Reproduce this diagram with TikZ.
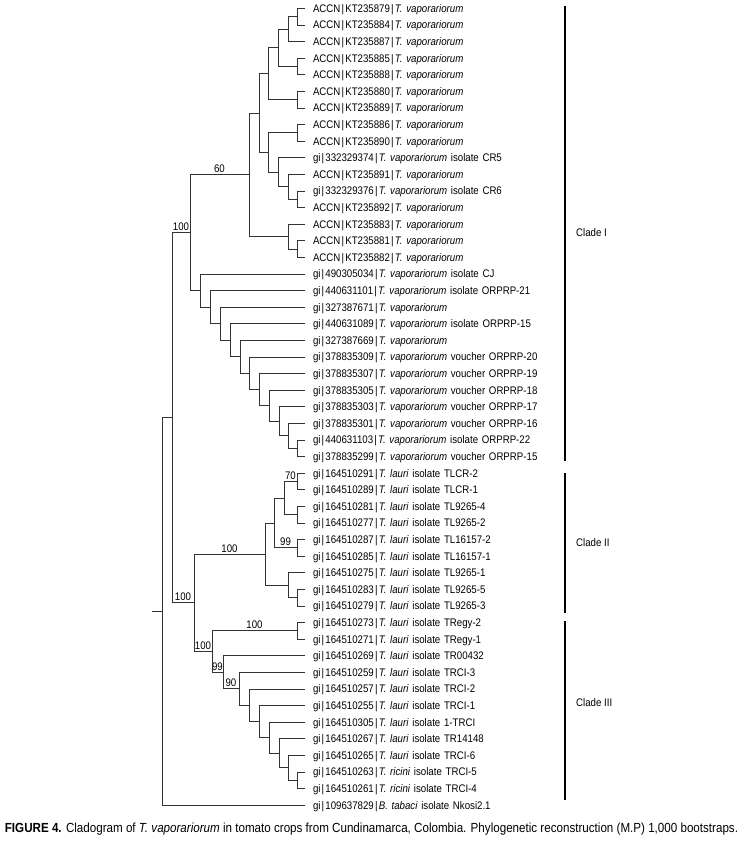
\documentclass[tikz,border=0pt]{standalone}
\usepackage{fontspec}
\setmainfont[FakeStretch=0.88]{Liberation Sans}
\usetikzlibrary{positioning}
\newcommand{\tvap}{\textit{T. vaporariorum}}
\newcommand{\tlau}{\textit{T. lauri}}
\newcommand{\tric}{\textit{T. ricini}}
\newcommand{\vsep}{\kern1.2pt|\kern1.2pt}
\tikzstyle{taxon} = [rectangle, anchor=west, text width=240pt, align=left,
    inner sep=0pt, outer xsep=8pt, outer ysep=0pt, minimum height=16.6pt,
    text height=10.4pt, text depth=2.4pt, font=\fontsize{11}{13}\selectfont]
\tikzstyle{branch} = [draw, black!80, line width=0.8pt]
\tikzstyle{support} = [above, text=black, inner sep=1.5pt, font=\fontsize{11}{13}\selectfont]
\tikzstyle{cladebar} = [draw, black, line width=1.2pt]
\tikzstyle{cladename} = [anchor=west, inner sep=0pt, font=\fontsize{11}{13}\selectfont]

\begin{document}
\begin{tikzpicture}[x=1pt, y=-16.6pt]
    \useasboundingbox (0,0.5) rectangle (741,51.404);

    \node[taxon] (kt235879) at (305,1) {ACCN\vsep KT235879\vsep\tvap};
    \node[taxon, below=0pt of kt235879] (kt235884) {ACCN\vsep KT235884\vsep\tvap};
    \node[taxon, below=0pt of kt235884] (kt235887) {ACCN\vsep KT235887\vsep\tvap};
    \node[taxon, below=0pt of kt235887] (kt235885) {ACCN\vsep KT235885\vsep\tvap};
    \node[taxon, below=0pt of kt235885] (kt235888) {ACCN\vsep KT235888\vsep\tvap};
    \node[taxon, below=0pt of kt235888] (kt235880) {ACCN\vsep KT235880\vsep\tvap};
    \node[taxon, below=0pt of kt235880] (kt235889) {ACCN\vsep KT235889\vsep\tvap};
    \node[taxon, below=0pt of kt235889] (kt235886) {ACCN\vsep KT235886\vsep\tvap};
    \node[taxon, below=0pt of kt235886] (kt235890) {ACCN\vsep KT235890\vsep\tvap};
    \node[taxon, below=0pt of kt235890] (gi332329374) {gi\vsep 332329374\vsep\tvap\ isolate CR5};
    \node[taxon, below=0pt of gi332329374] (kt235891) {ACCN\vsep KT235891\vsep\tvap};
    \node[taxon, below=0pt of kt235891] (gi332329376) {gi\vsep 332329376\vsep\tvap\ isolate CR6};
    \node[taxon, below=0pt of gi332329376] (kt235892) {ACCN\vsep KT235892\vsep\tvap};
    \node[taxon, below=0pt of kt235892] (kt235883) {ACCN\vsep KT235883\vsep\tvap};
    \node[taxon, below=0pt of kt235883] (kt235881) {ACCN\vsep KT235881\vsep\tvap};
    \node[taxon, below=0pt of kt235881] (kt235882) {ACCN\vsep KT235882\vsep\tvap};
    \node[taxon, below=0pt of kt235882] (gi490305034) {gi\vsep 490305034\vsep\tvap\ isolate CJ};
    \node[taxon, below=0pt of gi490305034] (gi440631101) {gi\vsep 440631101\vsep\tvap\ isolate ORPRP-21};
    \node[taxon, below=0pt of gi440631101] (gi327387671) {gi\vsep 327387671\vsep\tvap};
    \node[taxon, below=0pt of gi327387671] (gi440631089) {gi\vsep 440631089\vsep\tvap\ isolate ORPRP-15};
    \node[taxon, below=0pt of gi440631089] (gi327387669) {gi\vsep 327387669\vsep\tvap};
    \node[taxon, below=0pt of gi327387669] (gi378835309) {gi\vsep 378835309\vsep\tvap\ voucher ORPRP-20};
    \node[taxon, below=0pt of gi378835309] (gi378835307) {gi\vsep 378835307\vsep\tvap\ voucher ORPRP-19};
    \node[taxon, below=0pt of gi378835307] (gi378835305) {gi\vsep 378835305\vsep\tvap\ voucher ORPRP-18};
    \node[taxon, below=0pt of gi378835305] (gi378835303) {gi\vsep 378835303\vsep\tvap\ voucher ORPRP-17};
    \node[taxon, below=0pt of gi378835303] (gi378835301) {gi\vsep 378835301\vsep\tvap\ voucher ORPRP-16};
    \node[taxon, below=0pt of gi378835301] (gi440631103) {gi\vsep 440631103\vsep\tvap\ isolate ORPRP-22};
    \node[taxon, below=0pt of gi440631103] (gi378835299) {gi\vsep 378835299\vsep\tvap\ voucher ORPRP-15};
    \node[taxon, below=0pt of gi378835299] (gi164510291) {gi\vsep 164510291\vsep\tlau\ isolate TLCR-2};
    \node[taxon, below=0pt of gi164510291] (gi164510289) {gi\vsep 164510289\vsep\tlau\ isolate TLCR-1};
    \node[taxon, below=0pt of gi164510289] (gi164510281) {gi\vsep 164510281\vsep\tlau\ isolate TL9265-4};
    \node[taxon, below=0pt of gi164510281] (gi164510277) {gi\vsep 164510277\vsep\tlau\ isolate TL9265-2};
    \node[taxon, below=0pt of gi164510277] (gi164510287) {gi\vsep 164510287\vsep\tlau\ isolate TL16157-2};
    \node[taxon, below=0pt of gi164510287] (gi164510285) {gi\vsep 164510285\vsep\tlau\ isolate TL16157-1};
    \node[taxon, below=0pt of gi164510285] (gi164510275) {gi\vsep 164510275\vsep\tlau\ isolate TL9265-1};
    \node[taxon, below=0pt of gi164510275] (gi164510283) {gi\vsep 164510283\vsep\tlau\ isolate TL9265-5};
    \node[taxon, below=0pt of gi164510283] (gi164510279) {gi\vsep 164510279\vsep\tlau\ isolate TL9265-3};
    \node[taxon, below=0pt of gi164510279] (gi164510273) {gi\vsep 164510273\vsep\tlau\ isolate TRegy-2};
    \node[taxon, below=0pt of gi164510273] (gi164510271) {gi\vsep 164510271\vsep\tlau\ isolate TRegy-1};
    \node[taxon, below=0pt of gi164510271] (gi164510269) {gi\vsep 164510269\vsep\tlau\ isolate TR00432};
    \node[taxon, below=0pt of gi164510269] (gi164510259) {gi\vsep 164510259\vsep\tlau\ isolate TRCI-3};
    \node[taxon, below=0pt of gi164510259] (gi164510257) {gi\vsep 164510257\vsep\tlau\ isolate TRCI-2};
    \node[taxon, below=0pt of gi164510257] (gi164510255) {gi\vsep 164510255\vsep\tlau\ isolate TRCI-1};
    \node[taxon, below=0pt of gi164510255] (gi164510305) {gi\vsep 164510305\vsep\tlau\ isolate 1-TRCI};
    \node[taxon, below=0pt of gi164510305] (gi164510267) {gi\vsep 164510267\vsep\tlau\ isolate TR14148};
    \node[taxon, below=0pt of gi164510267] (gi164510265) {gi\vsep 164510265\vsep\tlau\ isolate TRCI-6};
    \node[taxon, below=0pt of gi164510265] (gi164510263) {gi\vsep 164510263\vsep\tric\ isolate TRCI-5};
    \node[taxon, below=0pt of gi164510263] (gi164510261) {gi\vsep 164510261\vsep\tric\ isolate TRCI-4};
    \node[taxon, below=0pt of gi164510261] (gi109637829) {gi\vsep 109637829\vsep\textit{B. tabaci} isolate Nkosi2.1};

    \coordinate (n1t2) at (297,1.5);
    \coordinate (n1t3) at (288,2.25);
    \coordinate (n4t5) at (297,4.5);
    \coordinate (n1t5) at (278,3.375);
    \coordinate (n6t7) at (297,6.5);
    \coordinate (n1t7) at (268,4.9375);
    \coordinate (n8t9) at (297,8.5);
    \coordinate (n12t13) at (297,12.5);
    \coordinate (n11t13) at (288,11.75);
    \coordinate (n10t13) at (278,10.875);
    \coordinate (n8t13) at (268,9.6875);
    \coordinate (n1t13) at (259,7.3125);
    \coordinate (n15t16) at (297,15.5);
    \coordinate (n14t16) at (288,14.75);
    \coordinate (n1t16) at (249,11.031);
    \coordinate (n27t28) at (297,27.5);
    \coordinate (n26t28) at (288,26.75);
    \coordinate (n25t28) at (279,25.875);
    \coordinate (n24t28) at (269,24.938);
    \coordinate (n23t28) at (259,23.969);
    \coordinate (n22t28) at (249,22.984);
    \coordinate (n21t28) at (240,21.992);
    \coordinate (n20t28) at (230,20.996);
    \coordinate (n19t28) at (220,19.998);
    \coordinate (n18t28) at (210,18.999);
    \coordinate (n17t28) at (200,18.0);
    \coordinate (cladeOne) at (190,14.515);
    \coordinate (n29t30) at (297,29.5);
    \coordinate (n31t32) at (297,31.5);
    \coordinate (n29t32) at (284,30.5);
    \coordinate (n33t34) at (297,33.5);
    \coordinate (n29t34) at (274,32);
    \coordinate (n36t37) at (297,36.5);
    \coordinate (n35t37) at (288,35.75);
    \coordinate (cladeTwo) at (265,33.875);
    \coordinate (n38t39) at (297,38.5);
    \coordinate (n47t48) at (297,47.5);
    \coordinate (n46t48) at (288,46.75);
    \coordinate (n45t48) at (279,45.875);
    \coordinate (n44t48) at (269,44.938);
    \coordinate (n43t48) at (259,43.969);
    \coordinate (n42t48) at (249,42.984);
    \coordinate (n41t48) at (239,41.992);
    \coordinate (n40t48) at (223,40.996);
    \coordinate (cladeThree) at (212,39.748);
    \coordinate (lauriGroup) at (194,36.811);
    \coordinate (ingroup) at (172,25.663);
    \coordinate (root) at (162,37.332);
    \coordinate (rootStub) at (152,37.332);

    \path[branch] (n1t2) |- (kt235879.west);
    \path[branch] (n1t2) |- (kt235884.west);
    \path[branch] (n1t3) |- (n1t2);
    \path[branch] (n1t3) |- (kt235887.west);
    \path[branch] (n4t5) |- (kt235885.west);
    \path[branch] (n4t5) |- (kt235888.west);
    \path[branch] (n1t5) |- (n1t3);
    \path[branch] (n1t5) |- (n4t5);
    \path[branch] (n6t7) |- (kt235880.west);
    \path[branch] (n6t7) |- (kt235889.west);
    \path[branch] (n1t7) |- (n1t5);
    \path[branch] (n1t7) |- (n6t7);
    \path[branch] (n8t9) |- (kt235886.west);
    \path[branch] (n8t9) |- (kt235890.west);
    \path[branch] (n12t13) |- (gi332329376.west);
    \path[branch] (n12t13) |- (kt235892.west);
    \path[branch] (n11t13) |- (kt235891.west);
    \path[branch] (n11t13) |- (n12t13);
    \path[branch] (n10t13) |- (gi332329374.west);
    \path[branch] (n10t13) |- (n11t13);
    \path[branch] (n8t13) |- (n8t9);
    \path[branch] (n8t13) |- (n10t13);
    \path[branch] (n1t13) |- (n1t7);
    \path[branch] (n1t13) |- (n8t13);
    \path[branch] (n15t16) |- (kt235881.west);
    \path[branch] (n15t16) |- (kt235882.west);
    \path[branch] (n14t16) |- (kt235883.west);
    \path[branch] (n14t16) |- (n15t16);
    \path[branch] (n1t16) |- (n1t13);
    \path[branch] (n1t16) |- (n14t16);

    \path[branch] (n27t28) |- (gi440631103.west);
    \path[branch] (n27t28) |- (gi378835299.west);
    \path[branch] (n26t28) |- (gi378835301.west);
    \path[branch] (n26t28) |- (n27t28);
    \path[branch] (n25t28) |- (gi378835303.west);
    \path[branch] (n25t28) |- (n26t28);
    \path[branch] (n24t28) |- (gi378835305.west);
    \path[branch] (n24t28) |- (n25t28);
    \path[branch] (n23t28) |- (gi378835307.west);
    \path[branch] (n23t28) |- (n24t28);
    \path[branch] (n22t28) |- (gi378835309.west);
    \path[branch] (n22t28) |- (n23t28);
    \path[branch] (n21t28) |- (gi327387669.west);
    \path[branch] (n21t28) |- (n22t28);
    \path[branch] (n20t28) |- (gi440631089.west);
    \path[branch] (n20t28) |- (n21t28);
    \path[branch] (n19t28) |- (gi327387671.west);
    \path[branch] (n19t28) |- (n20t28);
    \path[branch] (n18t28) |- (gi440631101.west);
    \path[branch] (n18t28) |- (n19t28);
    \path[branch] (n17t28) |- (gi490305034.west);
    \path[branch] (n17t28) |- (n18t28);
    \path[branch] (cladeOne) |- (n1t16) node[support, pos=.75] (bs60) {60};
    \path[branch] (cladeOne) |- (n17t28);

    \path[branch] (n29t30) |- (gi164510291.west);
    \path[branch] (n29t30) |- (gi164510289.west);
    \path[branch] (n31t32) |- (gi164510281.west);
    \path[branch] (n31t32) |- (gi164510277.west);
    \path[branch] (n29t32) |- (n29t30) node[support, pos=.75] (bs70) {70};
    \path[branch] (n29t32) |- (n31t32);
    \path[branch] (n33t34) |- (gi164510287.west);
    \path[branch] (n33t34) |- (gi164510285.west);
    \path[branch] (n29t34) |- (n29t32);
    \path[branch] (n29t34) |- (n33t34) node[support, pos=.75] (bs99a) {99};
    \path[branch] (n36t37) |- (gi164510283.west);
    \path[branch] (n36t37) |- (gi164510279.west);
    \path[branch] (n35t37) |- (gi164510275.west);
    \path[branch] (n35t37) |- (n36t37);
    \path[branch] (cladeTwo) |- (n29t34);
    \path[branch] (cladeTwo) |- (n35t37);

    \path[branch] (n38t39) |- (gi164510273.west);
    \path[branch] (n38t39) |- (gi164510271.west);
    \path[branch] (n47t48) |- (gi164510263.west);
    \path[branch] (n47t48) |- (gi164510261.west);
    \path[branch] (n46t48) |- (gi164510265.west);
    \path[branch] (n46t48) |- (n47t48);
    \path[branch] (n45t48) |- (gi164510267.west);
    \path[branch] (n45t48) |- (n46t48);
    \path[branch] (n44t48) |- (gi164510305.west);
    \path[branch] (n44t48) |- (n45t48);
    \path[branch] (n43t48) |- (gi164510255.west);
    \path[branch] (n43t48) |- (n44t48);
    \path[branch] (n42t48) |- (gi164510257.west);
    \path[branch] (n42t48) |- (n43t48);
    \path[branch] (n41t48) |- (gi164510259.west);
    \path[branch] (n41t48) |- (n42t48);
    \path[branch] (n40t48) |- (gi164510269.west);
    \path[branch] (n40t48) |- (n41t48) node[support, pos=.75] (bs90) {90};
    \path[branch] (cladeThree) |- (n38t39) node[support, pos=.75] (bs100d) {100};
    \path[branch] (cladeThree) |- (n40t48) node[support, pos=.75] (bs99b) {99};

    \path[branch] (lauriGroup) |- (cladeTwo) node[support, pos=.75] (bs100c) {100};
    \path[branch] (lauriGroup) |- (cladeThree) node[support, pos=.75] (bs100e) {100};
    \path[branch] (ingroup) |- (cladeOne) node[support, pos=.75] (bs100a) {100};
    \path[branch] (ingroup) |- (lauriGroup) node[support, pos=.75] (bs100b) {100};
    \path[branch] (root) |- (ingroup);
    \path[branch] (root) |- (gi109637829.west);
    \path[branch] (rootStub) -- (root);

    \coordinate (barOneTop) at (565,0.86);
    \coordinate (barOneEnd) at (565,28.27);
    \coordinate (barTwoTop) at (565,29.0);
    \coordinate (barTwoEnd) at (565,37.43);
    \coordinate (barThreeTop) at (565,37.9);
    \coordinate (barThreeEnd) at (565,48.7);
    \path[cladebar] (barOneTop) -- (barOneEnd);
    \path[cladebar] (barTwoTop) -- (barTwoEnd);
    \path[cladebar] (barThreeTop) -- (barThreeEnd);
    \node[cladename] (cladeOneName) at (576,14.54) {Clade I};
    \node[cladename] (cladeTwoName) at (576,33.21) {Clade II};
    \node[cladename] (cladeThreeName) at (576,42.85) {Clade III};

    \node[font=\fontsize{13.2}{15}\selectfont, inner sep=0pt] (caption) at (371.5,50.44)
        {\textbf{FIGURE 4.} Cladogram of \tvap\ in tomato crops from Cundinamarca, Colombia. Phylogenetic reconstruction (M.P) 1,000 bootstraps.};
\end{tikzpicture}
\end{document}
